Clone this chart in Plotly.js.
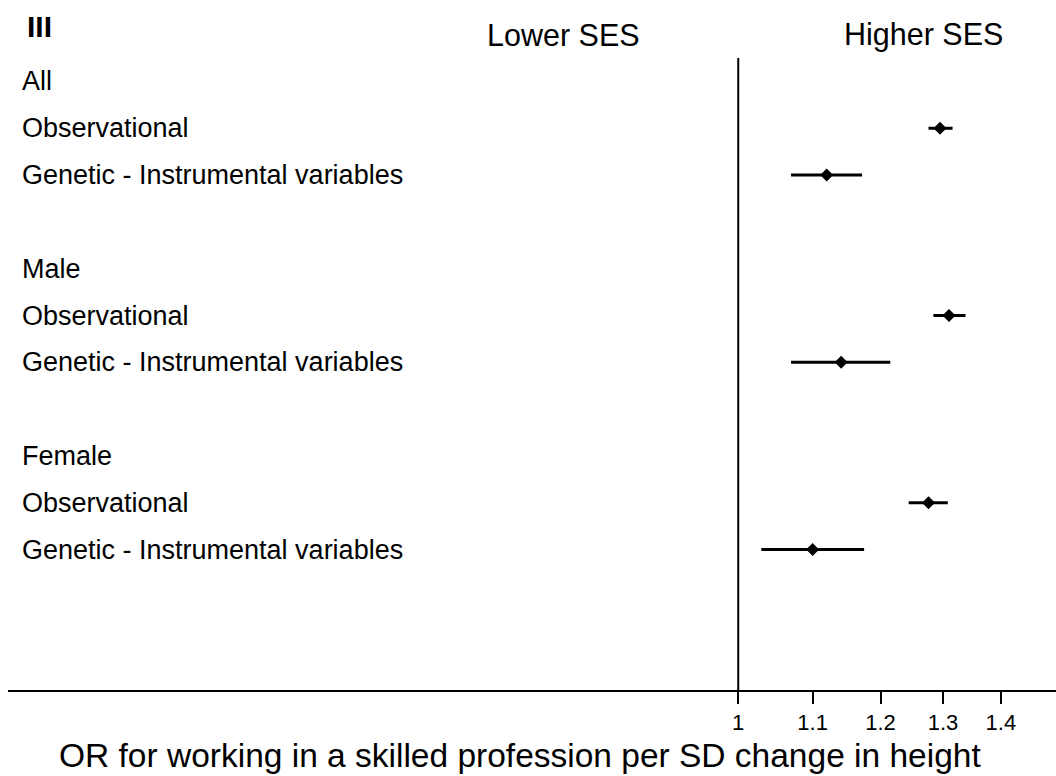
<!DOCTYPE html>
<html>
<head>
<meta charset="utf-8">
<script src="https://cdn.plot.ly/plotly-3.0.1.min.js"></script>
<style>html,body{margin:0;padding:0;background:#fff;}#chart{width:1056px;height:776px;}</style>
</head>
<body>
<div id="chart"></div>
<script>
// ---- data ----
const panelLabel = 'III';
const groups = ['All', 'Male', 'Female'];
const methods = ['Observational', 'Genetic - Instrumental variables'];
// odds ratios per group, order: [Observational, Genetic IV]
const orEstimate = [[1.295, 1.120], [1.310, 1.141], [1.276, 1.100]];
const orLower    = [[1.276, 1.070], [1.284, 1.070], [1.244, 1.030]];
const orUpper    = [[1.316, 1.172], [1.338, 1.215], [1.308, 1.175]];
const tickValues = [1, 1.1, 1.2, 1.3, 1.4];
const tickLabels = ['1', '1.1', '1.2', '1.3', '1.4'];
const leftHeader = 'Lower SES';
const rightHeader = 'Higher SES';
const xTitle = 'OR for working in a skilled profession per SD change in height';

// ---- build ----
const FONT = 'Liberation Sans, Arial, Helvetica, sans-serif';
const xs = [], ys = [], ep = [], em = [];
const annotations = [];
const rowStep = methods.length + 2;
const labelX = 0.0115;
groups.forEach((g, gi) => {
  const headRow = gi * rowStep + 1;
  annotations.push({text: g, xref: 'paper', yref: 'y', x: labelX, y: headRow,
    xanchor: 'left', yanchor: 'middle', showarrow: false, font: {family: FONT, size: 27, color: '#000'}});
  methods.forEach((m, mi) => {
    const r = headRow + mi + 1;
    annotations.push({text: m, xref: 'paper', yref: 'y', x: labelX, y: r,
      xanchor: 'left', yanchor: 'middle', showarrow: false, font: {family: FONT, size: 27, color: '#000'}});
    xs.push(orEstimate[gi][mi]);
    ys.push(r);
    ep.push(orUpper[gi][mi] - orEstimate[gi][mi]);
    em.push(orEstimate[gi][mi] - orLower[gi][mi]);
  });
});
annotations.push({text: '<b>' + panelLabel + '</b>', xref: 'paper', yref: 'y', x: 0.0165, y: -0.17,
  xanchor: 'left', yanchor: 'middle', showarrow: false, font: {family: FONT, size: 30, color: '#000'}});
annotations.push({text: leftHeader, xref: 'paper', yref: 'y', x: 0.5305, y: 0,
  xanchor: 'center', yanchor: 'middle', showarrow: false, font: {family: FONT, size: 30.5, color: '#000'}});
annotations.push({text: rightHeader, xref: 'paper', yref: 'y', x: 0.8735, y: 0,
  xanchor: 'center', yanchor: 'middle', showarrow: false, font: {family: FONT, size: 30.5, color: '#000'}});
annotations.push({text: xTitle, xref: 'paper', yref: 'paper', x: 0.4885, y: -0.0955,
  xanchor: 'center', yanchor: 'middle', showarrow: false, font: {family: FONT, size: 33.5, color: '#000'}});

const nullLine = {x: [1, 1], y: [0.5, 14], mode: 'lines', type: 'scatter',
  line: {color: '#000', width: 2}, hoverinfo: 'skip', showlegend: false};

const points = {x: xs, y: ys, type: 'scatter', mode: 'markers', showlegend: false,
  marker: {symbol: 'diamond', size: 10, color: '#000'},
  error_x: {type: 'data', symmetric: false, array: ep, arrayminus: em,
    color: '#000', thickness: 3, width: 0}};

const layout = {
  width: 1056, height: 776,
  margin: {l: 8, r: 0, t: 0, b: 86},
  paper_bgcolor: '#fff', plot_bgcolor: '#fff',
  showlegend: false,
  xaxis: {type: 'log', range: [-0.4063, 0.1768], tickvals: tickValues, ticktext: tickLabels,
    showgrid: false, zeroline: false, showline: true, linecolor: '#000', linewidth: 2,
    ticks: 'outside', ticklen: 12, tickwidth: 2, tickcolor: '#000',
    tickfont: {family: FONT, size: 22, color: '#000'}},
  yaxis: {range: [14, -0.74], visible: false, showgrid: false, zeroline: false},
  annotations: annotations
};

Plotly.newPlot('chart', [nullLine, points], layout, {displayModeBar: false, staticPlot: true});
</script>
</body>
</html>
